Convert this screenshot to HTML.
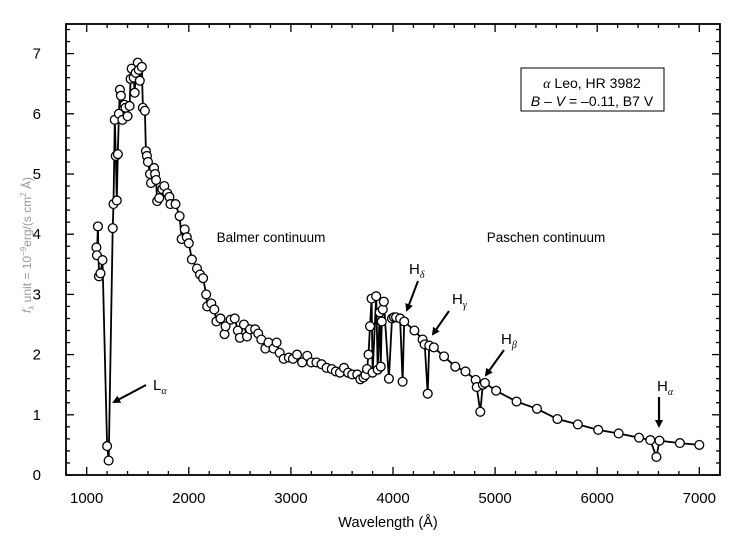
<!DOCTYPE html>
<html><head><meta charset="utf-8"><style>
html,body{margin:0;padding:0;background:#fff;}
svg{display:block;font-family:"Liberation Sans",Arial,sans-serif;}
</style></head><body>
<svg id="chart" width="744" height="538" viewBox="0 0 744 538" xmlns="http://www.w3.org/2000/svg">
<rect x="0" y="0" width="744" height="538" fill="#fff"/>
<g id="ticks"></g>
<rect x="66" y="24" width="654" height="451" fill="none" stroke="#000" stroke-width="1.8"/>
<g id="xlabels" font-size="15" text-anchor="middle"></g>
<g id="ylabels" font-size="15" text-anchor="end"></g>
<text x="388" y="527" font-size="14.5" text-anchor="middle">Wavelength (Å)</text>
<text transform="translate(31,245) rotate(-90)" font-size="12" fill="#999" text-anchor="middle"><tspan font-style="italic">f</tspan><tspan font-size="8" dy="3">λ</tspan><tspan dy="-3"> unit = 10</tspan><tspan font-size="8" dy="-5">−9</tspan><tspan dy="5">erg/(s cm</tspan><tspan font-size="8" dy="-5">2</tspan><tspan dy="5"> Å)</tspan></text>
<g id="series"></g>
<g>
<rect x="521" y="68" width="143" height="43" fill="#fff" stroke="#000" stroke-width="1"/>
<text x="592" y="88" font-size="14" text-anchor="middle"><tspan font-family="Liberation Serif" font-style="italic">α</tspan> Leo, HR 3982</text>
<text x="592" y="106" font-size="14" text-anchor="middle"><tspan font-style="italic">B</tspan> – <tspan font-style="italic">V</tspan> = –0.11,  B7 V</text>
</g>
<text x="271" y="242" font-size="13.5" text-anchor="middle">Balmer continuum</text>
<text x="546" y="242" font-size="13.5" text-anchor="middle">Paschen continuum</text>
<defs><marker id="ah" markerWidth="8" markerHeight="8" refX="6" refY="4" orient="auto" markerUnits="userSpaceOnUse"><path d="M0,0 L8,4 L0,8 z" fill="#000"/></marker></defs>
<g>
<text x="153" y="390" font-size="15">L<tspan font-size="10" dy="4" font-family="Liberation Serif" font-style="italic">α</tspan></text>
<line x1="146" y1="385" x2="114" y2="402" stroke="#000" stroke-width="2" marker-end="url(#ah)"/>
</g>
<g>
<text x="409" y="274" font-size="15">H<tspan font-size="10" dy="4" font-family="Liberation Serif" font-style="italic">δ</tspan></text>
<line x1="418" y1="281" x2="407" y2="310" stroke="#000" stroke-width="2" marker-end="url(#ah)"/>
</g>
<g>
<text x="452" y="304" font-size="15">H<tspan font-size="10" dy="4" font-family="Liberation Serif" font-style="italic">γ</tspan></text>
<line x1="449" y1="311" x2="433" y2="334" stroke="#000" stroke-width="2" marker-end="url(#ah)"/>
</g>
<g>
<text x="501" y="344" font-size="15">H<tspan font-size="10" dy="4" font-family="Liberation Serif" font-style="italic">β</tspan></text>
<line x1="504" y1="350" x2="486" y2="375" stroke="#000" stroke-width="2" marker-end="url(#ah)"/>
</g>
<g>
<text x="657" y="391" font-size="15">H<tspan font-size="10" dy="4" font-family="Liberation Serif" font-style="italic">α</tspan></text>
<line x1="659" y1="397" x2="659" y2="426" stroke="#000" stroke-width="2.2" marker-end="url(#ah)"/>
</g>
</svg>
<script>
const wavelengths = [1095,1100,1110,1120,1135,1155,1200,1215,1255,1262,1275,1285,1295,1305,1315,1325,1335,1350,1370,1380,1400,1420,1430,1440,1460,1470,1480,1500,1510,1520,1540,1550,1570,1580,1590,1600,1620,1630,1660,1670,1680,1690,1710,1740,1760,1790,1810,1820,1870,1910,1930,1960,1980,2000,2030,2080,2110,2140,2170,2180,2220,2250,2270,2310,2350,2360,2410,2450,2480,2500,2540,2570,2600,2650,2680,2710,2750,2780,2830,2860,2890,2930,2980,3020,3060,3110,3160,3200,3250,3300,3350,3400,3440,3480,3520,3560,3600,3650,3680,3710,3730,3745,3760,3775,3790,3800,3835,3850,3870,3880,3890,3900,3910,3960,3990,4010,4030,4070,4094,4110,4210,4290,4310,4340,4355,4400,4500,4610,4710,4810,4820,4855,4880,4900,5010,5210,5410,5610,5810,6010,6210,6410,6520,6580,6610,6810,7000];
const fluxes = [3.78,3.65,4.13,3.30,3.35,3.57,0.48,0.24,4.10,4.50,5.90,5.30,4.56,5.33,6.00,6.40,6.30,5.90,6.15,6.10,5.96,6.13,6.58,6.75,6.60,6.35,6.68,6.85,6.73,6.55,6.78,6.10,6.05,5.38,5.30,5.20,5.00,4.85,5.10,5.00,4.90,4.55,4.60,4.75,4.80,4.68,4.62,4.50,4.50,4.30,3.92,4.08,3.95,3.85,3.58,3.43,3.33,3.27,3.00,2.80,2.85,2.75,2.55,2.60,2.34,2.47,2.58,2.60,2.40,2.28,2.50,2.30,2.42,2.42,2.35,2.25,2.10,2.20,2.10,2.20,2.03,1.93,1.95,1.93,2.00,1.87,1.98,1.87,1.87,1.84,1.78,1.76,1.72,1.70,1.78,1.70,1.67,1.67,1.59,1.62,1.66,1.76,2.00,2.47,2.93,1.70,2.97,1.75,2.70,1.80,2.55,2.75,2.88,1.60,2.60,2.62,2.62,2.60,1.55,2.55,2.40,2.25,2.17,1.35,2.15,2.12,1.97,1.80,1.72,1.58,1.46,1.05,1.50,1.53,1.40,1.22,1.10,0.93,0.84,0.75,0.69,0.62,0.58,0.30,0.57,0.53,0.50];
const xTickLabels = [1000,2000,3000,4000,5000,6000,7000];
const yTickLabels = [0,1,2,3,4,5,6,7];

const NS = "http://www.w3.org/2000/svg";
const L=66,R=720,T=24,B=475;
function xs(w){return 86.7 + (w-1000)*0.1021;}
function ys(v){return 475 - v*60.2;}

const tg = document.getElementById('ticks');
function tick(x1,y1,x2,y2){
  const l=document.createElementNS(NS,'line');
  l.setAttribute('x1',x1);l.setAttribute('y1',y1);l.setAttribute('x2',x2);l.setAttribute('y2',y2);
  l.setAttribute('stroke','#000');l.setAttribute('stroke-width','1.3');
  
  
  tg.appendChild(l);
}
for(let w=800; w<=7200; w+=200){
  const x=xs(w); if(x<L||x>R) continue;
  const len = (w%1000===0)?8:4;
  tick(x,B,x,B-len); tick(x,T,x,T+len);
}
for(let i=0;i<=37;i++){
  const v=i*0.2; const y=ys(v); if(y<T) continue;
  const len = (i%5===0)?8:4;
  tick(L,y,L+len,y); tick(R,y,R-len,y);
}
const xl=document.getElementById('xlabels');
xTickLabels.forEach(w=>{
  const t=document.createElementNS(NS,'text');
  t.setAttribute('x',xs(w));t.setAttribute('y',503);t.textContent=w;
  
  
  xl.appendChild(t);
});
const yl=document.getElementById('ylabels');
yTickLabels.forEach(v=>{
  const t=document.createElementNS(NS,'text');
  t.setAttribute('x',41);t.setAttribute('y',ys(v)+5);t.textContent=v;
  
  
  yl.appendChild(t);
});
const sg=document.getElementById('series');
const path=document.createElementNS(NS,'path');
path.setAttribute('d', wavelengths.map((w,i)=>(i?'L':'M')+xs(w).toFixed(1)+','+ys(fluxes[i]).toFixed(1)).join(' '));
path.setAttribute('fill','none');path.setAttribute('stroke','#000');path.setAttribute('stroke-width','1.8');


sg.appendChild(path);
wavelengths.forEach((w,i)=>{
  const c=document.createElementNS(NS,'circle');
  c.setAttribute('cx',xs(w));c.setAttribute('cy',ys(fluxes[i]));c.setAttribute('r',4.4);
  c.setAttribute('fill','#fff');c.setAttribute('stroke','#000');c.setAttribute('stroke-width','1.3');
  
  
  sg.appendChild(c);
});
</script>
</body></html>
